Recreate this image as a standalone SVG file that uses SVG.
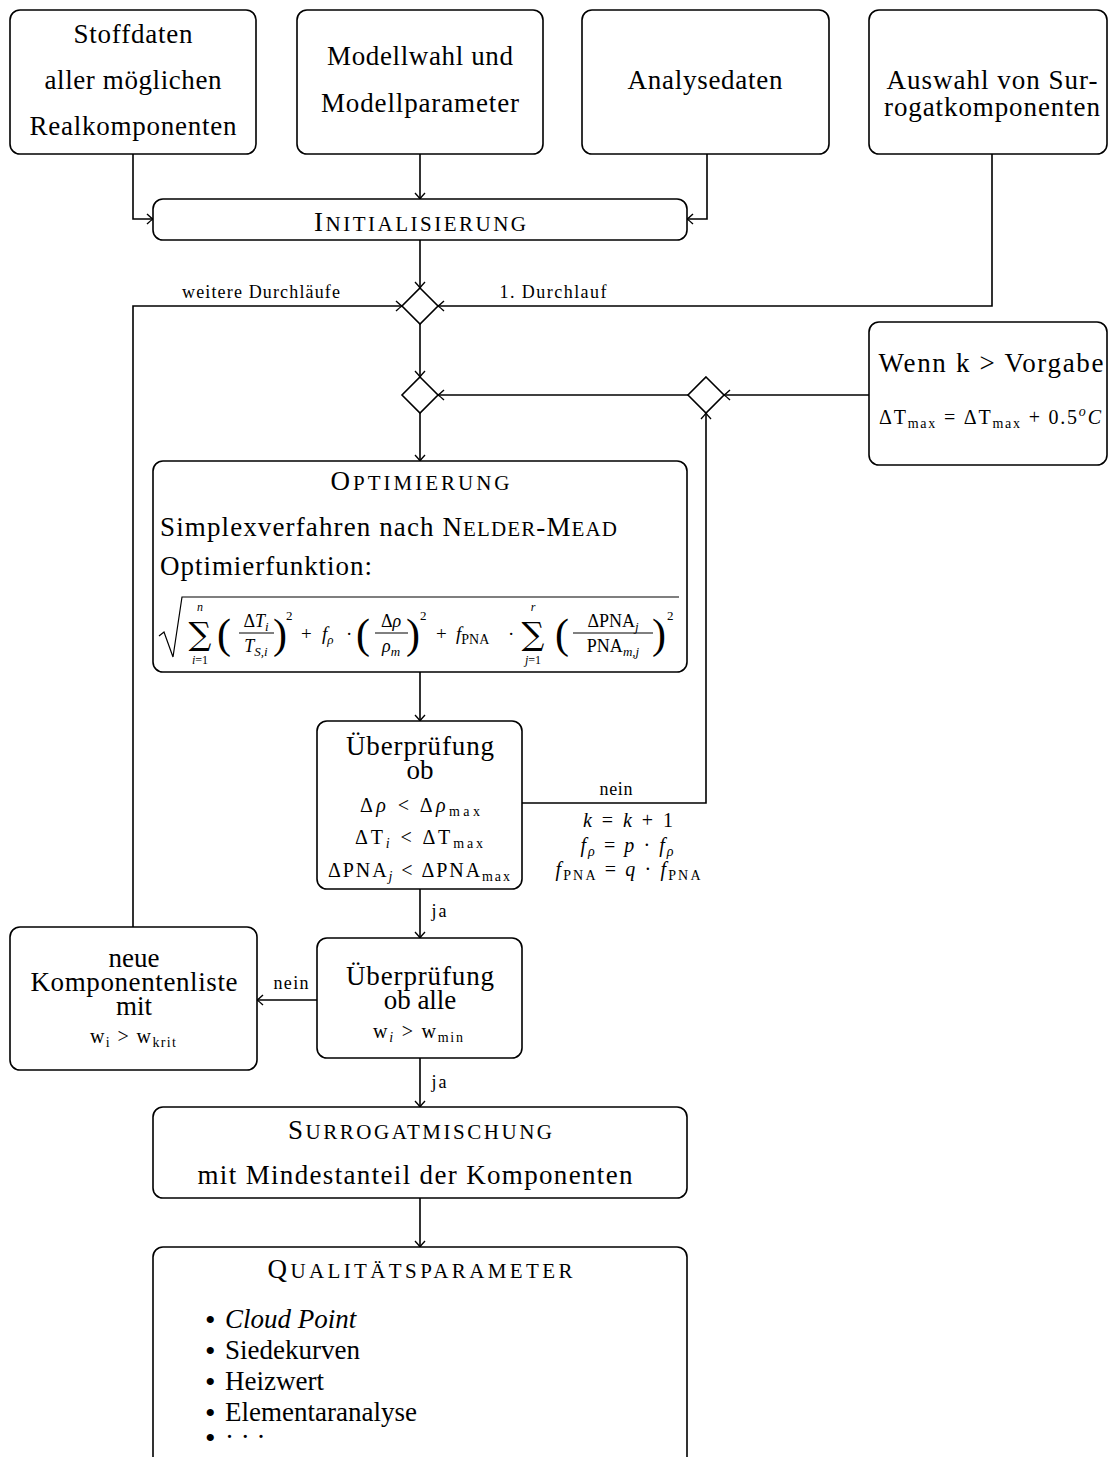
<svg xmlns="http://www.w3.org/2000/svg" width="1108" height="1457" viewBox="0 0 1108 1457">
<defs>
<marker id="arr" viewBox="-8 -6 10 12" refX="0" refY="0" markerWidth="10" markerHeight="12" orient="auto" markerUnits="userSpaceOnUse">
<path d="M-6,-5 Q-2,-1.2 0,0 Q-2,1.2 -6,5" fill="none" stroke="#000" stroke-width="1.4"/>
</marker>
<style>
.b{fill:#fff;stroke:#000;stroke-width:1.6}
.t{font-family:"Liberation Serif","DejaVu Serif",serif;font-size:27px;text-anchor:middle;fill:#000}
.l{text-anchor:start}
.s{font-size:18px}
.m{font-size:20px}
.i{font-style:italic}
.c{stroke:#000;stroke-width:1.6;fill:none;marker-end:url(#arr)}
.sc{font-size:21px}
.sb{font-size:14px}
.bu{font-size:30px}
</style>
</defs>
<rect width="1108" height="1457" fill="#fff"/>

<g id="connectors">
<path class="c" d="M133,154 V219 H153"/>
<path class="c" d="M420,154 V199"/>
<path class="c" d="M707,154 V219 H687"/>
<path class="c" d="M992,154 V306 H438"/>
<path class="c" d="M420,240 V288"/>
<path class="c" d="M133,927 V306 H402"/>
<path class="c" d="M420,324 V377"/>
<path class="c" d="M869,395 H724"/>
<path class="c" d="M688,395 H438"/>
<path class="c" d="M420,413 V461"/>
<path class="c" d="M522,803 H706 V413"/>
<path class="c" d="M420,672 V721"/>
<path class="c" d="M420,889 V938"/>
<path class="c" d="M317,1000 H257"/>
<path class="c" d="M420,1058 V1107"/>
<path class="c" d="M420,1198 V1247"/>
<text class="t s" x="261" y="298" textLength="158">weitere Durchläufe</text>
<text class="t s" x="553" y="298" textLength="107">1. Durchlauf</text>
<text class="t s" x="616" y="795" textLength="33">nein</text>
<text class="t s" x="439" y="917" textLength="15">ja</text>
<text class="t s" x="291" y="989" textLength="35">nein</text>
<text class="t s" x="439" y="1088" textLength="15">ja</text>
<text class="t m" x="628" y="827" textLength="90"><tspan class="i">k</tspan> = <tspan class="i">k</tspan> + 1</text>
<text class="t m" x="627" y="852" textLength="93"><tspan class="i">f</tspan><tspan class="i sb" dy="4">ρ</tspan><tspan dy="-4"> = </tspan><tspan class="i">p</tspan> · <tspan class="i">f</tspan><tspan class="i sb" dy="4">ρ</tspan></text>
<text class="t m" x="628" y="876" textLength="145"><tspan class="i">f</tspan><tspan class="sb" dy="4">PNA</tspan><tspan dy="-4"> = </tspan><tspan class="i">q</tspan> · <tspan class="i">f</tspan><tspan class="sb" dy="4">PNA</tspan></text>
</g>

<g id="diamonds">
<path class="b" d="M420,288 L438,306 L420,324 L402,306 Z"/>
<path class="b" d="M420,377 L438,395 L420,413 L402,395 Z"/>
<path class="b" d="M706,377 L724,395 L706,413 L688,395 Z"/>
</g>

<g id="stoffdaten">
<rect class="b" x="10" y="10" width="246" height="144" rx="10"/>
<text class="t" x="133" y="43" textLength="119">Stoffdaten</text>
<text class="t" x="133" y="89" textLength="177">aller möglichen</text>
<text class="t" x="133" y="135" textLength="207">Realkomponenten</text>
</g>
<g id="modellwahl">
<rect class="b" x="297" y="10" width="246" height="144" rx="10"/>
<text class="t" x="420" y="65" textLength="186">Modellwahl und</text>
<text class="t" x="420" y="112" textLength="198">Modellparameter</text>
</g>
<g id="analysedaten">
<rect class="b" x="582" y="10" width="247" height="144" rx="10"/>
<text class="t" x="705" y="89" textLength="155">Analysedaten</text>
</g>
<g id="auswahl">
<rect class="b" x="869" y="10" width="238" height="144" rx="10"/>
<text class="t" x="992" y="89" textLength="211">Auswahl von Sur-</text>
<text class="t" x="992" y="116" textLength="216">rogatkomponenten</text>
</g>
<g id="initialisierung">
<rect class="b" x="153" y="199" width="534" height="41" rx="10"/>
<text class="t" x="420" y="231" textLength="212">I<tspan class="sc">NITIALISIERUNG</tspan></text>
</g>
<g id="wenn">
<rect class="b" x="869" y="322" width="238" height="143" rx="10"/>
<text class="t" x="991" y="372" textLength="225">Wenn k &gt; Vorgabe</text>
<text class="t m" x="990" y="424" textLength="222">ΔT<tspan class="sb" dy="4">max</tspan><tspan dy="-4"> = ΔT</tspan><tspan class="sb" dy="4">max</tspan><tspan dy="-4"> + 0.5</tspan><tspan class="i sb" dy="-8">o</tspan><tspan class="i" dy="8">C</tspan></text>
</g>
<g id="optimierung">
<rect class="b" x="153" y="461" width="534" height="211" rx="10"/>
<text class="t" x="420" y="490" textLength="179">O<tspan class="sc">PTIMIERUNG</tspan></text>
<text class="t l" x="160" y="536" textLength="457">Simplexverfahren nach N<tspan class="sc">ELDER</tspan>-M<tspan class="sc">EAD</tspan></text>
<text class="t l" x="160" y="575" textLength="212">Optimierfunktion:</text>
<g id="formula" font-family="Liberation Serif, DejaVu Serif, serif" fill="#000">
<path d="M159,636 L164,632 L173,657 L182,597 H679" fill="none" stroke="#000" stroke-width="1.2"/>
<text x="200" y="611" font-size="12" font-style="italic" text-anchor="middle">n</text>
<text x="200" y="645" font-size="32" text-anchor="middle" font-family="DejaVu Serif, serif">∑</text>
<text x="200" y="664" font-size="12" text-anchor="middle"><tspan font-style="italic">i</tspan>=1</text>
<text x="217" y="648" font-size="42">(</text>
<text x="256" y="627" font-size="18" text-anchor="middle">Δ<tspan font-style="italic">T</tspan><tspan font-size="13" font-style="italic" dy="4">i</tspan></text>
<path d="M239,633 H274" stroke="#000" stroke-width="1"/>
<text x="256" y="652" font-size="18" text-anchor="middle"><tspan font-style="italic">T</tspan><tspan font-size="13" font-style="italic" dy="4">S,i</tspan></text>
<text x="273" y="648" font-size="42">)</text>
<text x="286" y="620" font-size="13">2</text>
<text x="301" y="640" font-size="19">+</text>
<text x="322" y="640" font-size="19" font-style="italic">f<tspan font-size="13" dy="4">ρ</tspan></text>
<text x="346" y="640" font-size="19">·</text>
<text x="356" y="648" font-size="42">(</text>
<text x="391" y="627" font-size="18" text-anchor="middle">Δ<tspan font-style="italic">ρ</tspan></text>
<path d="M375,633 H408" stroke="#000" stroke-width="1"/>
<text x="391" y="652" font-size="18" text-anchor="middle" font-style="italic">ρ<tspan font-size="13" dy="4">m</tspan></text>
<text x="406" y="648" font-size="42">)</text>
<text x="420" y="620" font-size="13">2</text>
<text x="436" y="640" font-size="19">+</text>
<text x="456" y="640" font-size="19"><tspan font-style="italic">f</tspan><tspan font-size="14" dy="4">PNA</tspan></text>
<text x="508" y="640" font-size="19">·</text>
<text x="533" y="645" font-size="32" text-anchor="middle" font-family="DejaVu Serif, serif">∑</text>
<text x="533" y="611" font-size="12" font-style="italic" text-anchor="middle">r</text>
<text x="533" y="664" font-size="12" text-anchor="middle"><tspan font-style="italic">j</tspan>=1</text>
<text x="555" y="648" font-size="42">(</text>
<text x="613" y="627" font-size="18" text-anchor="middle">ΔPNA<tspan font-size="13" font-style="italic" dy="4">j</tspan></text>
<path d="M573,633 H653" stroke="#000" stroke-width="1"/>
<text x="613" y="652" font-size="18" text-anchor="middle">PNA<tspan font-size="13" font-style="italic" dy="4">m,j</tspan></text>
<text x="652" y="648" font-size="42">)</text>
<text x="667" y="620" font-size="13">2</text>
</g>
</g>
<g id="pruefung1">
<rect class="b" x="317" y="721" width="205" height="168" rx="10"/>
<text class="t" x="420" y="755" textLength="148">Überprüfung</text>
<text class="t" x="420" y="779">ob</text>
<text class="t m" x="420" y="812" textLength="120">Δ<tspan class="i">ρ</tspan> &lt; Δ<tspan class="i">ρ</tspan><tspan class="sb" dy="4">max</tspan></text>
<text class="t m" x="419" y="844" textLength="128">ΔT<tspan class="i sb" dy="4">i</tspan><tspan dy="-4"> &lt; ΔT</tspan><tspan class="sb" dy="4">max</tspan></text>
<text class="t m" x="419" y="877" textLength="182">ΔPNA<tspan class="i sb" dy="4">j</tspan><tspan dy="-4"> &lt; ΔPNA</tspan><tspan class="sb" dy="4">max</tspan></text>
</g>
<g id="pruefung2">
<rect class="b" x="317" y="938" width="205" height="120" rx="10"/>
<text class="t" x="420" y="985" textLength="148">Überprüfung</text>
<text class="t" x="420" y="1009">ob alle</text>
<text class="t m" x="418" y="1038" textLength="90">w<tspan class="i sb" dy="4">i</tspan><tspan dy="-4"> &gt; w</tspan><tspan class="sb" dy="4">min</tspan></text>
</g>
<g id="komponentenliste">
<rect class="b" x="10" y="927" width="247" height="143" rx="10"/>
<text class="t" x="134" y="967">neue</text>
<text class="t" x="134" y="991" textLength="207">Komponentenliste</text>
<text class="t" x="134" y="1015">mit</text>
<text class="t m" x="133" y="1043" textLength="86">w<tspan class="sb" dy="4">i</tspan><tspan dy="-4"> &gt; w</tspan><tspan class="sb" dy="4">krit</tspan></text>
</g>
<g id="surrogat">
<rect class="b" x="153" y="1107" width="534" height="91" rx="10"/>
<text class="t" x="420" y="1139" textLength="264">S<tspan class="sc">URROGATMISCHUNG</tspan></text>
<text class="t" x="415" y="1184" textLength="435">mit Mindestanteil der Komponenten</text>
</g>
<g id="qualitaet">
<rect class="b" x="153" y="1247" width="534" height="220" rx="10"/>
<text class="t" x="420" y="1278" textLength="305">Q<tspan class="sc">UALITÄTSPARAMETER</tspan></text>
<text class="t l bu" x="205" y="1330">•</text>
<text class="t l i" x="225" y="1328">Cloud Point</text>
<text class="t l bu" x="205" y="1361">•</text>
<text class="t l" x="225" y="1359">Siedekurven</text>
<text class="t l bu" x="205" y="1392">•</text>
<text class="t l" x="225" y="1390">Heizwert</text>
<text class="t l bu" x="205" y="1423">•</text>
<text class="t l" x="225" y="1421">Elementaranalyse</text>
<text class="t l bu" x="205" y="1448">•</text>
<text class="t l" x="225" y="1446">· · ·</text>
</g>
</svg>
